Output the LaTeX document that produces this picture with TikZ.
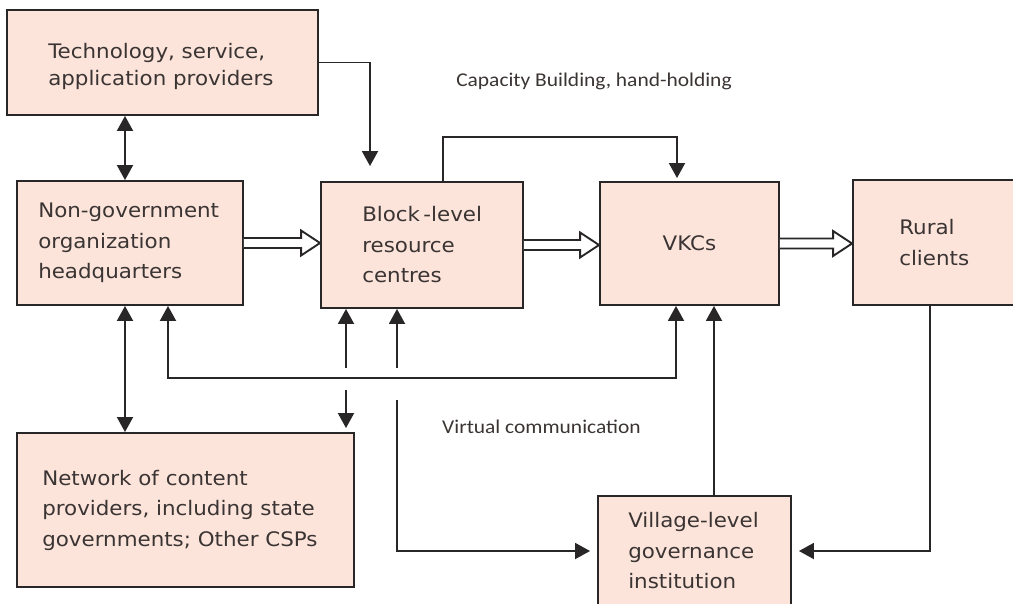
\documentclass[tikz,border=0pt]{standalone}
\usepackage{fontspec}
\usetikzlibrary{arrows.meta,calc}
\newfontfamily\boxfont[FakeStretch=1.07]{DejaVu Sans}
\newfontfamily\lblfont[FakeStretch=1.1]{Carlito}
\definecolor{boxfill}{RGB}{252,228,219}
\definecolor{edge}{RGB}{40,38,38}
\definecolor{ink}{RGB}{58,52,51}
\tikzset{
  box/.style={draw=edge, fill=boxfill, line width=1.9pt, inner sep=0pt},
  txt/.style={font=\boxfont\fontsize{20}{30.5}\selectfont, text=ink, align=left, inner sep=0pt},
  lbl/.style={font=\lblfont\fontsize{19.5}{23}\selectfont, text=ink, inner sep=0pt},
  conn/.style={draw=edge, line width=1.9pt},
  one/.style={conn, -{Triangle[length=15pt,width=16pt]}},
  both/.style={conn, {Triangle[length=15pt,width=16pt]}-{Triangle[length=15pt,width=16pt]}},
  gapline/.style={draw=white, line width=5pt},
  fat/.style={draw=edge, fill=white, line width=1.9pt, line join=miter},
}
% hollow block arrow from the east side of #1 to the west side of #2
\newcommand{\fatarrow}[2]{%
  \draw[fat] let \p1=(#1.east), \p2=(#2.west) in
    (\x1,\y1+5pt) -- (\x2-19pt,\y1+5pt) -- (\x2-19pt,\y1+12.5pt) -- (\x2,\y1)
    -- (\x2-19pt,\y1-12.5pt) -- (\x2-19pt,\y1-5pt) -- (\x1,\y1-5pt);}
\begin{document}
\begin{tikzpicture}[x=1pt,y=-1pt]
\useasboundingbox (0,0) rectangle (1013,603);
\clip (0,0) rectangle (1013,603);

% boxes
\node[box, minimum width=311pt, minimum height=105pt] (tech) at (162.5,62.5) {};
\node[box, minimum width=226pt, minimum height=124pt] (ngo)  at (130,243) {};
\node[box, minimum width=202pt, minimum height=126pt] (blk)  at (422,245) {};
\node[box, minimum width=179pt, minimum height=123pt] (vkc)  at (689.5,243.5) {};
\node[box, minimum width=167pt, minimum height=125pt] (rur)  at (936.5,242.5) {};
\node[box, minimum width=337pt, minimum height=154pt] (net)  at (185.5,510) {};
\node[box, minimum width=193pt, minimum height=110pt] (vil)  at (694.5,551) {};

% box texts
\node[txt, anchor=west, xshift=42pt, yshift=-4pt, font=\boxfont\fontsize{20}{27.5}\selectfont] (tech-t) at (tech.west)
  {Technology, service,\\application providers};
\node[txt, anchor=west, xshift=22pt] (ngo-t) at (ngo.west)
  {Non-government\\organization\\headquarters};
\node[txt, anchor=west, xshift=42pt] (blk-t) at (blk.west)
  {Block\,-level\\resource\\centres};
\node[txt] (vkc-t) at (vkc.center) {VKCs};
\node[txt, anchor=west, xshift=47pt] (rur-t) at (rur.west)
  {Rural\\clients};
\node[txt, anchor=west, xshift=26pt] (net-t) at (net.west)
  {Network of content\\providers, including state\\governments; Other CSPs};
\node[txt, anchor=west, xshift=31pt] (vil-t) at (vil.west)
  {Village-level\\governance\\institution};

% free labels
\node[lbl] (cap) at (594,81) {Capacity Building, hand-holding};
\node[lbl, anchor=west] (virt) at (442,427) {Virtual communication};

% column and row helpers for the connectors
\coordinate (xa) at (125,0);
\coordinate (xb) at (370,0);
\coordinate (xc) at (443,0);
\coordinate (xd) at (677,0);
\coordinate (xe) at (168,0);
\coordinate (xf) at (676,0);
\coordinate (xg) at (346,0);
\coordinate (xh) at (397,0);
\coordinate (xi) at (930,0);
\coordinate (xj) at (714,0);
\coordinate (yt) at (0,137);
\coordinate (yb) at (0,378);
\coordinate (g1) at (0,368);
\coordinate (g2) at (0,390);
\coordinate (g3) at (0,400);

% hollow flow arrows
\fatarrow{ngo}{blk}
\fatarrow{blk}{vkc}
\fatarrow{vkc}{rur}

% thin connectors
\draw[both] (tech.south -| xa) -- (ngo.north -| xa);
\draw[both] (ngo.south -| xa) -- (net.north -| xa);
\draw[one, shorten >=15pt] (tech.east) -| (blk.north -| xb);
\draw[one, shorten >=3pt] (blk.north -| xc) |- (yt -| xd) -- (vkc.north -| xd);
\draw[both, shorten >=4pt] (blk.south -| xg) -- (net.north -| xg);
\draw[both, shorten >=7pt] (blk.south -| xh) |- (vil.west);
% breaks where the two verticals pass the communication line
\draw[gapline] (g1 -| xg) -- (g2 -| xg);
\draw[gapline] (g1 -| xh) -- (g3 -| xh);
\draw[both] (ngo.south -| xe) |- (yb -| xf) -- (vkc.south -| xf);
\draw[one, shorten >=7pt] (rur.south -| xi) |- (vil.east);
\draw[one] (vil.north -| xj) -- (vkc.south -| xj);
\end{tikzpicture}
\end{document}
